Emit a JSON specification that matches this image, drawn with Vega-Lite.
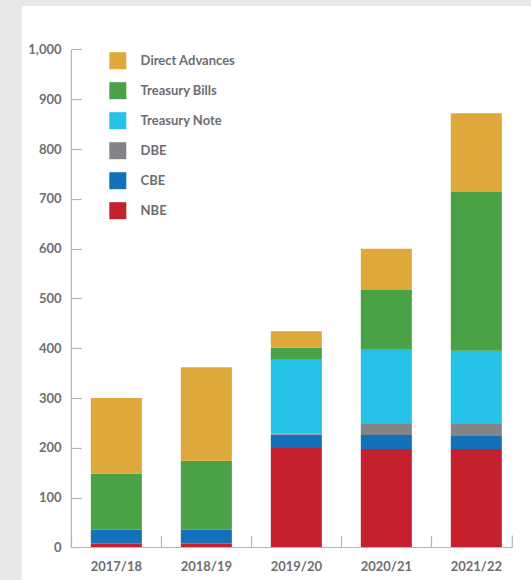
{
  "$schema": "https://vega.github.io/schema/vega-lite/v6.json",
  "width": 509,
  "height": 574,
  "autosize": {"type": "none"},
  "padding": {"left": 22, "top": 6, "right": 0, "bottom": 0},
  "background": "#e6e7e9",
  "config": {
    "view": {"fill": "white", "stroke": null},
    "axis": {
      "labelFont": "Lato",
      "labelFontSize": 13,
      "labelFontWeight": "bold",
      "labelColor": "#6d6e71",
      "tickColor": "#b5b5b5",
      "tickWidth": 1.2,
      "grid": false,
      "domain": false,
      "title": null
    },
    "legend": {
      "labelFont": "Lato",
      "labelFontSize": 13,
      "labelFontWeight": "bold",
      "labelColor": "#6d6e71"
    }
  },
  "data": {
    "values": [
      {"year": "2017/18", "series": "NBE", "value": 8},
      {"year": "2017/18", "series": "CBE", "value": 28},
      {"year": "2017/18", "series": "Treasury Bills", "value": 112},
      {"year": "2017/18", "series": "Direct Advances", "value": 152},
      {"year": "2018/19", "series": "NBE", "value": 8},
      {"year": "2018/19", "series": "CBE", "value": 28},
      {"year": "2018/19", "series": "Treasury Bills", "value": 138},
      {"year": "2018/19", "series": "Direct Advances", "value": 188},
      {"year": "2019/20", "series": "NBE", "value": 200},
      {"year": "2019/20", "series": "CBE", "value": 27},
      {"year": "2019/20", "series": "DBE", "value": 2},
      {"year": "2019/20", "series": "Treasury Note", "value": 148},
      {"year": "2019/20", "series": "Treasury Bills", "value": 24},
      {"year": "2019/20", "series": "Direct Advances", "value": 33},
      {"year": "2020/21", "series": "NBE", "value": 198},
      {"year": "2020/21", "series": "CBE", "value": 28},
      {"year": "2020/21", "series": "DBE", "value": 22},
      {"year": "2020/21", "series": "Treasury Note", "value": 149},
      {"year": "2020/21", "series": "Treasury Bills", "value": 120},
      {"year": "2020/21", "series": "Direct Advances", "value": 83},
      {"year": "2021/22", "series": "NBE", "value": 198},
      {"year": "2021/22", "series": "CBE", "value": 26},
      {"year": "2021/22", "series": "DBE", "value": 24},
      {"year": "2021/22", "series": "Treasury Note", "value": 147},
      {"year": "2021/22", "series": "Treasury Bills", "value": 319},
      {"year": "2021/22", "series": "Direct Advances", "value": 158}
    ]
  },
  "layer": [
    {
      "transform": [
        {"calculate": "indexof(['NBE','CBE','DBE','Treasury Note','Treasury Bills','Direct Advances'], datum.series)", "as": "stackRank"}
      ],
      "mark": {"type": "bar", "width": {"band": 0.567}},
      "encoding": {
        "x": {
          "field": "year",
          "type": "nominal",
          "scale": {"paddingInner": 0, "paddingOuter": 0.328, "align": 0.836},
          "axis": {
            "labelAngle": 0,
            "tickSize": -12,
            "bandPosition": 0,
            "labelPadding": 25,
            "offset": -32.5
          }
        },
        "y": {
          "field": "value",
          "type": "quantitative",
          "stack": "zero",
          "scale": {"domain": [-65.3, 1087.3], "nice": false, "zero": false},
          "axis": {
            "values": [0, 100, 200, 300, 400, 500, 600, 700, 800, 900, 1000],
            "format": ",.0f",
            "tickSize": -10,
            "labelPadding": 20.3,
            "offset": -49.3
          }
        },
        "color": {
          "field": "series",
          "type": "nominal",
          "scale": {
            "domain": ["Direct Advances", "Treasury Bills", "Treasury Note", "DBE", "CBE", "NBE"],
            "range": ["#dea83a", "#4ba146", "#26c1e6", "#838487", "#1271b8", "#c5202e"]
          },
          "legend": {
            "orient": "none",
            "legendX": 87.3,
            "legendY": 46.2,
            "title": null,
            "symbolType": "square",
            "symbolSize": 289,
            "symbolStrokeWidth": 0,
            "symbolOpacity": 1,
            "labelOffset": 14.3,
            "rowPadding": 13
          }
        },
        "order": {"field": "stackRank", "type": "quantitative", "sort": "ascending"}
      }
    },
    {
      "data": {"values": [{}]},
      "mark": {"type": "rule", "color": "#b5b5b5", "strokeWidth": 1.2},
      "encoding": {
        "x": {"datum": "2017/18", "type": "nominal", "bandPosition": 0},
        "y": {"datum": 0, "type": "quantitative"},
        "y2": {"datum": 1000}
      }
    },
    {
      "data": {"values": [{}]},
      "mark": {"type": "rule", "color": "#b5b5b5", "strokeWidth": 1.2},
      "encoding": {
        "x": {"datum": "2017/18", "type": "nominal", "bandPosition": 0},
        "x2": {"datum": "2021/22", "bandPosition": 0.9},
        "y": {"datum": 0, "type": "quantitative"}
      }
    },
    {
      "data": {"values": [{}]},
      "mark": {"type": "rule", "color": "#b5b5b5", "strokeWidth": 1.2},
      "encoding": {
        "x": {"datum": "2021/22", "type": "nominal", "bandPosition": 0.9},
        "y": {"datum": 0, "type": "quantitative"},
        "y2": {"datum": 24}
      }
    }
  ]
}
